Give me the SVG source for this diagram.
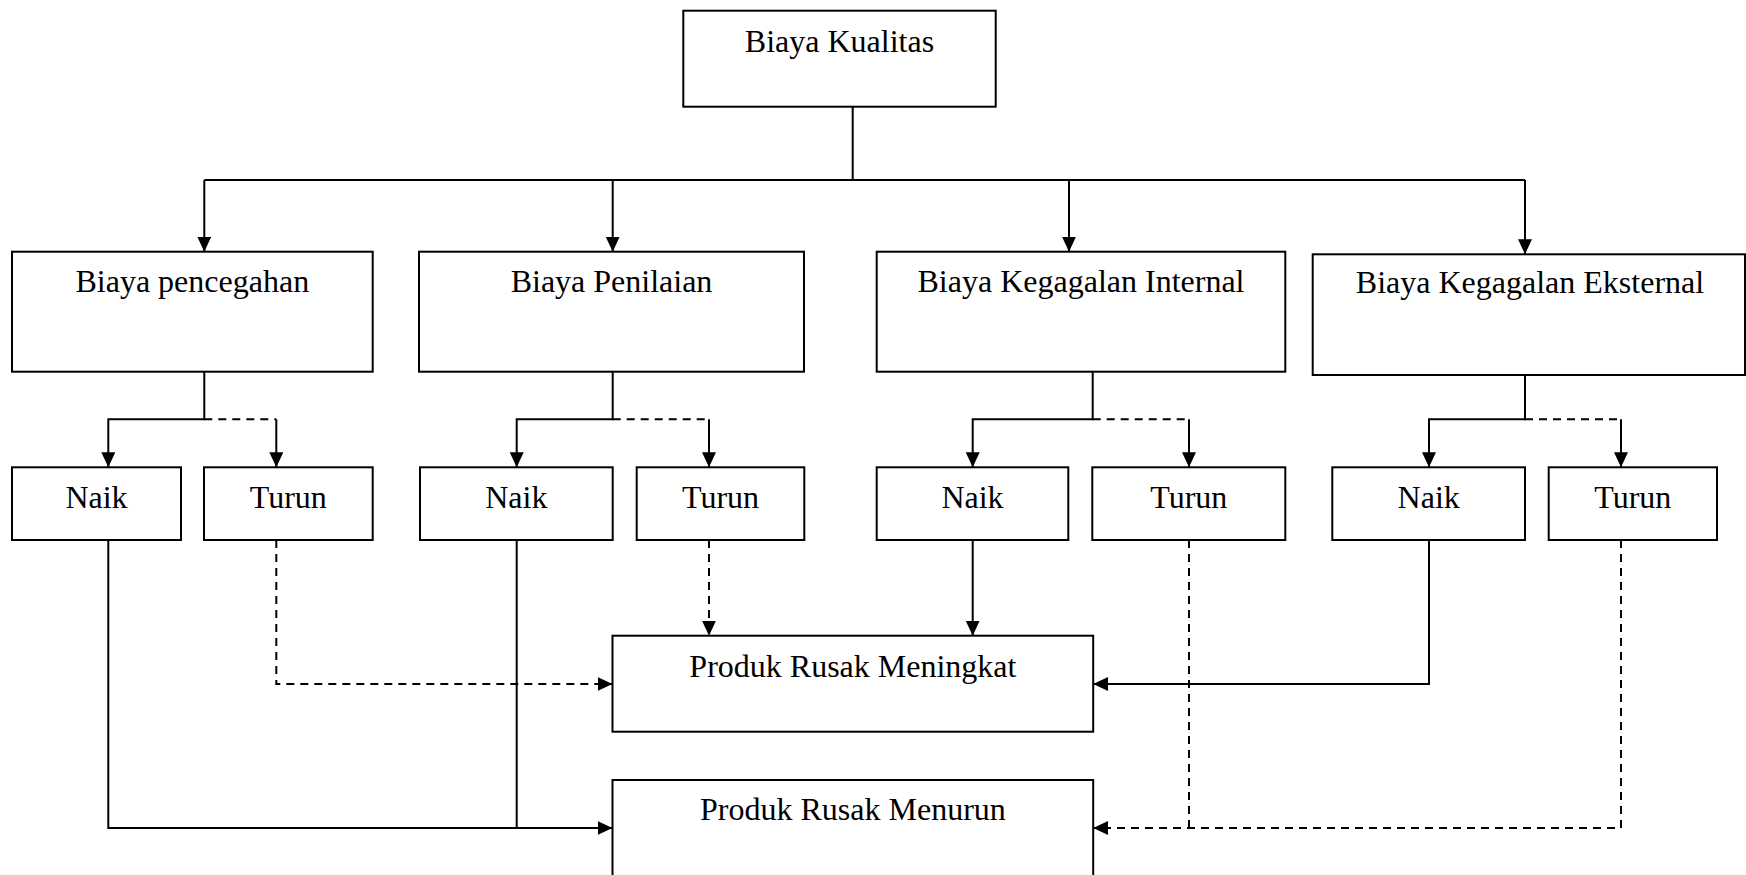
<svg xmlns="http://www.w3.org/2000/svg" width="1746" height="875" viewBox="0 0 1746 875">
<style>
.box{fill:#fff;stroke:#000;stroke-width:2}
.t{font-family:"Liberation Serif","Times New Roman",serif;font-size:32px;fill:#000;text-anchor:middle}
.ln{fill:none;stroke:#000;stroke-width:2}
.ds{fill:none;stroke:#000;stroke-width:2;stroke-dasharray:8 6}
</style>
<defs>
<marker id="ah" markerUnits="userSpaceOnUse" markerWidth="16" markerHeight="15" refX="15" refY="7" orient="auto">
<path d="M0,0 L15,7 L0,14 z" fill="#000"/>
</marker>
</defs>
<rect width="1746" height="875" fill="#fff"/>
<g id="connectors">
<path class="ln" d="M852.7,106.7 V180 M204.3,180 H1525"/>
<path class="ln" marker-end="url(#ah)" d="M204.3,180 V251.7"/>
<path class="ln" marker-end="url(#ah)" d="M612.7,180 V251.7"/>
<path class="ln" marker-end="url(#ah)" d="M1069,180 V251.7"/>
<path class="ln" marker-end="url(#ah)" d="M1525,180 V254.3"/>
<path class="ln" marker-end="url(#ah)" d="M204.3,371.7 V419.3 H108.3 V467.3"/>
<path class="ds" d="M204.3,419.3 H276.3"/>
<path class="ln" marker-end="url(#ah)" d="M276.3,419.3 V467.3"/>
<path class="ln" marker-end="url(#ah)" d="M612.7,371.7 V419.3 H516.7 V467.3"/>
<path class="ds" d="M612.7,419.3 H709"/>
<path class="ln" marker-end="url(#ah)" d="M709,419.3 V467.3"/>
<path class="ln" marker-end="url(#ah)" d="M1092.7,371.7 V419.3 H972.7 V467.3"/>
<path class="ds" d="M1092.7,419.3 H1189"/>
<path class="ln" marker-end="url(#ah)" d="M1189,419.3 V467.3"/>
<path class="ln" marker-end="url(#ah)" d="M1525,375 V419.3 H1429 V467.3"/>
<path class="ds" d="M1525,419.3 H1621"/>
<path class="ln" marker-end="url(#ah)" d="M1621,419.3 V467.3"/>
<path class="ln" marker-end="url(#ah)" d="M108.3,540 V828 H612.5"/>
<path class="ln" d="M516.7,540 V828"/>
<path class="ds" marker-end="url(#ah)" d="M276.3,540 V684 H612.5"/>
<path class="ds" marker-end="url(#ah)" d="M709,540 V635.7"/>
<path class="ln" marker-end="url(#ah)" d="M972.7,540 V635.7"/>
<path class="ln" marker-end="url(#ah)" d="M1429,540 V684 H1093.2"/>
<path class="ds" d="M1189,540 V828"/>
<path class="ds" marker-end="url(#ah)" d="M1621,540 V828 H1093.2"/>
</g>
<g id="n-kualitas"><rect class="box" x="683.3" y="10.7" width="312.4" height="96"/><text class="t" x="839.5" y="51.7">Biaya Kualitas</text></g>
<g id="n-pencegahan"><rect class="box" x="12" y="251.7" width="360.7" height="120"/><text class="t" x="192.3" y="291.7">Biaya pencegahan</text></g>
<g id="n-penilaian"><rect class="box" x="419" y="251.7" width="385" height="120"/><text class="t" x="611.5" y="291.7">Biaya Penilaian</text></g>
<g id="n-internal"><rect class="box" x="876.7" y="251.7" width="408.6" height="120"/><text class="t" x="1081" y="291.7">Biaya Kegagalan Internal</text></g>
<g id="n-eksternal"><rect class="box" x="1312.7" y="254.3" width="432.3" height="120.7"/><text class="t" x="1530" y="293.3">Biaya Kegagalan Eksternal</text></g>
<g id="n-naik1"><rect class="box" x="12" y="467.3" width="169" height="72.7"/><text class="t" x="96.5" y="508.3">Naik</text></g>
<g id="n-turun1"><rect class="box" x="204" y="467.3" width="168.7" height="72.7"/><text class="t" x="288.3" y="508.3">Turun</text></g>
<g id="n-naik2"><rect class="box" x="420" y="467.3" width="192.7" height="72.7"/><text class="t" x="516.3" y="508.3">Naik</text></g>
<g id="n-turun2"><rect class="box" x="636.7" y="467.3" width="167.6" height="72.7"/><text class="t" x="720.5" y="508.3">Turun</text></g>
<g id="n-naik3"><rect class="box" x="876.7" y="467.3" width="191.6" height="72.7"/><text class="t" x="972.5" y="508.3">Naik</text></g>
<g id="n-turun3"><rect class="box" x="1092.3" y="467.3" width="193" height="72.7"/><text class="t" x="1188.8" y="508.3">Turun</text></g>
<g id="n-naik4"><rect class="box" x="1332.3" y="467.3" width="192.7" height="72.7"/><text class="t" x="1428.7" y="508.3">Naik</text></g>
<g id="n-turun4"><rect class="box" x="1548.7" y="467.3" width="168.3" height="72.7"/><text class="t" x="1632.8" y="508.3">Turun</text></g>
<g id="n-meningkat"><rect class="box" x="612.5" y="635.7" width="480.7" height="96"/><text class="t" x="852.9" y="676.7">Produk Rusak Meningkat</text></g>
<g id="n-menurun"><rect class="box" x="612.5" y="780" width="480.7" height="110"/><text class="t" x="852.9" y="820">Produk Rusak Menurun</text></g>
</svg>
